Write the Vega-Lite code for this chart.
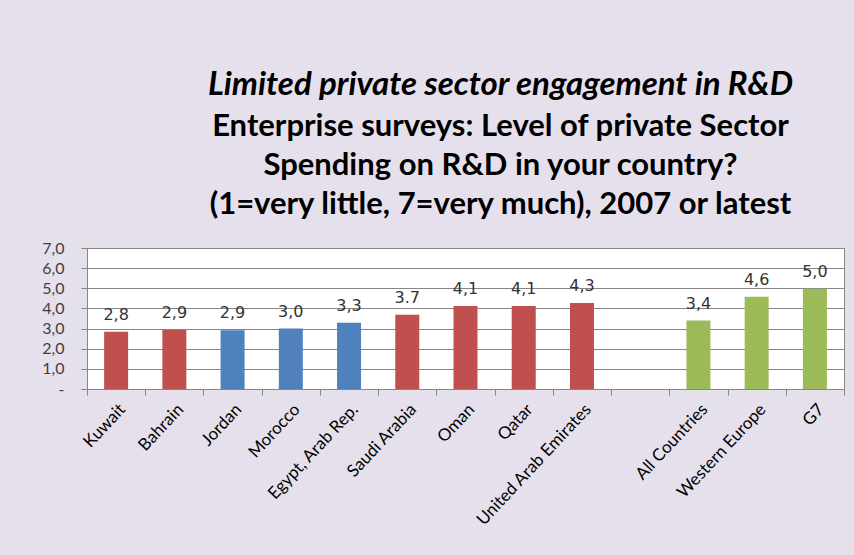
{
  "$schema": "https://vega.github.io/schema/vega-lite/v6.json",
  "width": 757,
  "height": 141,
  "autosize": {"type": "none"},
  "padding": {"left": 87, "top": 248, "right": 10, "bottom": 166},
  "background": "#E5E0EC",
  "title": {
    "text": "Limited private sector engagement in R&D",
    "subtitle": ["Enterprise surveys: Level of private Sector", "Spending on R&D in  your country?", "(1=very little, 7=very much),  2007 or latest"],
    "anchor": "middle",
    "frame": "group",
    "dx": 35,
    "offset": 20,
    "font": "Lato",
    "fontSize": 33,
    "fontWeight": "bold",
    "fontStyle": "italic",
    "color": "black",
    "lineHeight": 40,
    "subtitleFont": "Lato",
    "subtitleFontSize": 31,
    "subtitleFontWeight": "bold",
    "subtitleColor": "black",
    "subtitleLineHeight": 39,
    "subtitlePadding": 10
  },
  "config": {
    "view": {"fill": "white", "stroke": "#868686", "strokeWidth": 1}
  },
  "data": {
    "values": [
      {"country": "Kuwait", "value": 2.84, "label": "2,8", "region": "GCC"},
      {"country": "Bahrain", "value": 2.93, "label": "2,9", "region": "GCC"},
      {"country": "Jordan", "value": 2.92, "label": "2,9", "region": "Other"},
      {"country": "Morocco", "value": 3.0, "label": "3,0", "region": "Other"},
      {"country": "Egypt, Arab Rep.", "value": 3.29, "label": "3,3", "region": "Other"},
      {"country": "Saudi Arabia", "value": 3.68, "label": "3.7", "region": "GCC"},
      {"country": "Oman", "value": 4.12, "label": "4,1", "region": "GCC"},
      {"country": "Qatar", "value": 4.12, "label": "4,1", "region": "GCC"},
      {"country": "United Arab Emirates", "value": 4.27, "label": "4,3", "region": "GCC"},
      {"country": "All Countries", "value": 3.4, "label": "3,4", "region": "Benchmark"},
      {"country": "Western Europe", "value": 4.58, "label": "4,6", "region": "Benchmark"},
      {"country": "G7", "value": 4.98, "label": "5,0", "region": "Benchmark"}
    ]
  },
  "encoding": {
    "x": {
      "field": "country",
      "type": "nominal",
      "sort": null,
      "scale": {
        "domain": ["Kuwait", "Bahrain", "Jordan", "Morocco", "Egypt, Arab Rep.", "Saudi Arabia", "Oman", "Qatar", "United Arab Emirates", " ", "All Countries", "Western Europe", "G7"],
        "paddingInner": 0,
        "paddingOuter": 0
      },
      "axis": {
        "title": null,
        "labelAngle": -47,
        "labelAlign": "right",
        "labelBaseline": "top",
        "labelFont": "Lato",
        "labelFontSize": 17,
        "labelColor": "black",
        "labelPadding": 6,
        "tickBand": "extent",
        "tickSize": 6,
        "tickColor": "#868686",
        "domainColor": "#868686",
        "grid": false
      }
    },
    "y": {
      "field": "value",
      "type": "quantitative",
      "scale": {"domain": [0, 7], "nice": false},
      "axis": {
        "title": null,
        "values": [0, 1, 2, 3, 4, 5, 6, 7],
        "labelExpr": "datum.value == 0 ? '-' : replace(format(datum.value, '.1f'), '.', ',')",
        "labelFont": "Lato",
        "labelFontSize": 16,
        "labelColor": "#404040",
        "labelPadding": 17,
        "tickSize": 6,
        "tickColor": "#868686",
        "domainColor": "#868686",
        "gridColor": "#868686",
        "grid": true
      }
    }
  },
  "layer": [
    {
      "mark": {"type": "bar", "size": 24},
      "encoding": {
        "color": {
          "field": "region",
          "type": "nominal",
          "scale": {"domain": ["GCC", "Other", "Benchmark"], "range": ["#C0504D", "#4F81BD", "#9BBB59"]},
          "legend": null
        }
      }
    },
    {
      "mark": {"type": "text", "font": "DejaVu Sans", "fontSize": 16, "fill": "#333333", "dy": -12, "baseline": "alphabetic"},
      "encoding": {
        "text": {"field": "label", "type": "nominal"}
      }
    }
  ]
}
